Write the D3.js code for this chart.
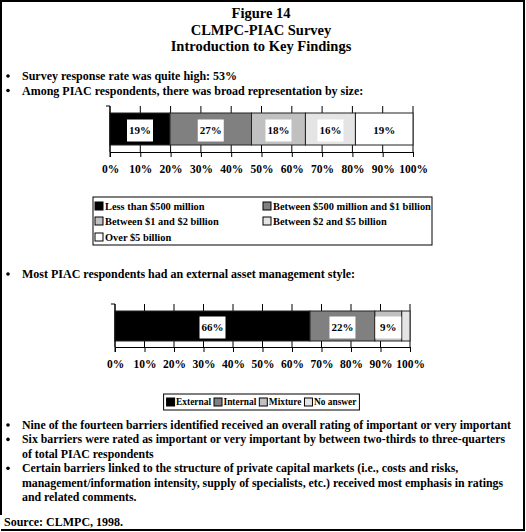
<!DOCTYPE html>
<html>
<head>
<meta charset="utf-8">
<script src="https://d3js.org/d3.v7.min.js"></script>
<style>
body { margin: 0; background: #fff; }
svg { display: block; }
text { font-family: "Liberation Serif", "Times New Roman", serif; font-weight: bold; fill: #000; }
</style>
</head>
<body>
<svg id="svg" width="526" height="532"></svg>
<script>

// chart data
const sizeCats = ["Less than $500 million", "Between $500 million and $1 billion",
  "Between $1 and $2 billion", "Between $2 and $5 billion", "Over $5 billion"];
const sizeValues = [19.8, 26.9, 17.8, 16.5, 19.0];
const sizeLabels = ["19%", "27%", "18%", "16%", "19%"];

const styleCats = ["External", "Internal", "Mixture", "No answer"];
const styleValues = [66.1, 22.0, 9.1, 2.8];
const styleLabels = ["66%", "22%", "9%", ""];

const pctTicks = [0, 10, 20, 30, 40, 50, 60, 70, 80, 90, 100];

const fills = ["#000000", "#808080", "#c0c0c0", "#e4e4e4", "#ffffff"];

let svg = d3.select("#svg");

// frame
svg.append("path")
  .attr("d", "M1,515 V1 H524 V530 H1")
  .attr("fill", "none")
  .attr("stroke", "#000")
  .attr("stroke-width", 2);

// title
let titles = ["Figure 14", "CLMPC-PIAC Survey", "Introduction to Key Findings"];
svg.selectAll(".title").data(titles).enter().append("text")
  .attr("class", "title")
  .attr("x", 261)
  .attr("y", function(d, i) { return 18 + i * 16.5; })
  .attr("text-anchor", "middle")
  .style("font-size", "14.5px")
  .text(function(d) { return d; });

function bullets(lines, x, y, step, size) {
  let g = svg.append("g");
  lines.forEach(function(l, i) {
    if (l.b) {
      g.append("circle").attr("cx", 8).attr("cy", y + i * step - 4).attr("r", 1.8).attr("fill", "#000");
    }
    g.append("text").attr("x", x).attr("y", y + i * step)
      .style("font-size", size + "px")
      .text(l.t);
  });
}

bullets([
  {b: true, t: "Survey response rate was quite high: 53%"},
  {b: true, t: "Among PIAC respondents, there was broad representation by size:"}
], 22, 80, 14.5, 12);

bullets([
  {b: true, t: "Most PIAC respondents had an external asset management style:"}
], 22, 278, 15, 12);

bullets([
  {b: true, t: "Nine of the fourteen barriers identified received an overall rating of important or very important"},
  {b: true, t: "Six barriers were rated as important or very important by between two-thirds to three-quarters"},
  {b: false, t: "of total PIAC respondents"},
  {b: true, t: "Certain barriers linked to the structure of private capital markets (i.e., costs and risks,"},
  {b: false, t: "management/information intensity, supply of specialists, etc.) received most emphasis in ratings"},
  {b: false, t: "and related comments."}
], 22, 429, 14.4, 11.85);

svg.append("text").attr("x", 4).attr("y", 526)
  .style("font-size", "12px")
  .text("Source: CLMPC, 1998.");

// stacked 100% bar
function stackedBar(values, labels, x0, x1, top, bottom, axisY) {
  let x = d3.scaleLinear().domain([0, 100]).range([x0, x1]);
  let g = svg.append("g");

  // tick lines behind the bar
  g.selectAll(".tk").data(pctTicks).enter().append("line")
    .attr("x1", function(d) { return x(d); })
    .attr("x2", function(d) { return x(d); })
    .attr("y1", top - 7)
    .attr("y2", axisY)
    .attr("stroke", "#000");

  let starts = [];
  let acc = 0;
  values.forEach(function(v) { starts.push(acc); acc += v; });

  g.selectAll(".seg").data(values).enter().append("rect")
    .attr("x", function(d, i) { return x(starts[i]); })
    .attr("y", top)
    .attr("width", function(d, i) { return x(starts[i] + d) - x(starts[i]); })
    .attr("height", bottom - top)
    .attr("fill", function(d, i) { return fills[i]; })
    .attr("stroke", "#222")
    .attr("stroke-width", 1);

  let lab = g.selectAll(".lab").data(values).enter().append("g")
    .attr("transform", function(d, i) {
      return "translate(" + x(starts[i] + d / 2) + "," + ((top + bottom) / 2 + 1.5) + ")";
    });
  lab.filter(function(d, i) { return labels[i] !== ""; }).append("rect")
    .attr("x", -13).attr("y", -11).attr("width", 26).attr("height", 22)
    .attr("fill", "#fff");
  lab.append("text")
    .attr("text-anchor", "middle")
    .attr("dy", "0.35em")
    .style("font-size", "11px")
    .text(function(d, i) { return labels[i]; });

  // left axis line
  g.append("line").attr("x1", x0).attr("x2", x0).attr("y1", top - 7).attr("y2", axisY + 5).attr("stroke", "#000");
  g.append("line").attr("x1", x0 - 4).attr("x2", x0).attr("y1", top - 7).attr("y2", top - 7).attr("stroke", "#000");

  let ax = g.append("g").attr("transform", "translate(0," + axisY + ")")
    .call(d3.axisBottom(x).tickValues(pctTicks).tickFormat(function(d) { return d + "%"; })
      .tickSize(5).tickSizeOuter(0).tickPadding(8));
  ax.select(".domain").attr("stroke", "#000");
  ax.selectAll("text").attr("font-family", null).attr("font-size", null)
    .style("font-size", "11.5px");
}

stackedBar(sizeValues, sizeLabels, 110, 413, 113, 145, 152);
stackedBar(styleValues, styleLabels, 115, 410, 311, 341, 347);

// legend in a grid (size chart)
function legend(cats, items, box, size) {
  let g = svg.append("g");
  g.append("rect").attr("x", box[0]).attr("y", box[1]).attr("width", box[2]).attr("height", box[3])
    .attr("fill", "#fff").attr("stroke", "#000");
  let it = g.selectAll(".it").data(cats).enter().append("g")
    .attr("transform", function(d, i) { return "translate(" + items[i][0] + "," + items[i][1] + ")"; });
  it.append("rect").attr("x", 0).attr("y", -4).attr("width", 8).attr("height", 8)
    .attr("fill", function(d, i) { return fills[i]; })
    .attr("stroke", "#000");
  it.append("text").attr("x", 10).attr("dy", "0.35em")
    .style("font-size", size + "px")
    .text(function(d) { return d; });
}

legend(sizeCats, [[95, 206], [263, 206], [95, 221], [263, 221], [95, 237]], [93, 197, 339, 48], 10.4);

// one-row legend (style chart), laid out by text width and centred
function rowLegend(cats, cx, cy, size) {
  let g = svg.append("g");
  let box = g.append("rect").attr("fill", "#fff").attr("stroke", "#000");
  let cursor = 0;
  cats.forEach(function(c, i) {
    g.append("rect").attr("x", cursor).attr("y", cy - 4).attr("width", 8).attr("height", 8)
      .attr("fill", fills[i]).attr("stroke", "#000");
    let t = g.append("text").attr("x", cursor + 9.5).attr("y", cy).attr("dy", "0.35em")
      .style("font-size", size + "px").text(c);
    cursor += 9.5 + t.node().getComputedTextLength() + 3;
  });
  let w = cursor - 3;
  let left = cx - w / 2;
  g.selectAll("rect,text").filter(function() { return this !== box.node(); })
    .attr("transform", "translate(" + left + ",0)");
  box.attr("x", left - 3).attr("y", cy - 8).attr("width", w + 6).attr("height", 16);
}

rowLegend(styleCats, 261.5, 402, 9.4);

</script>
</body>
</html>
